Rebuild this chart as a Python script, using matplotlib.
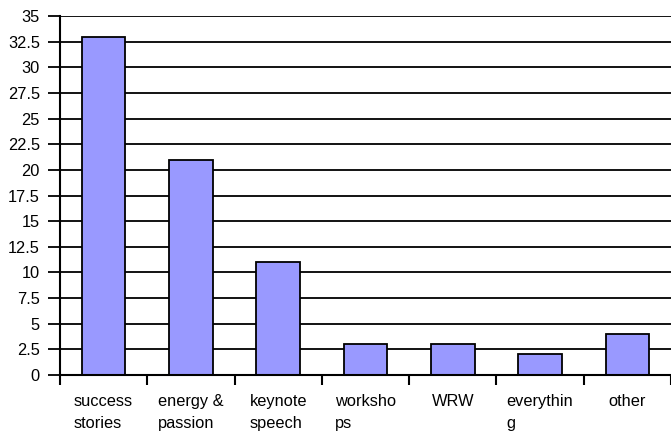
import matplotlib
matplotlib.use("Agg")
import matplotlib.pyplot as plt
from matplotlib.ticker import MultipleLocator, FixedLocator, NullFormatter

categories = ["success\nstories", "energy &\npassion", "keynote\nspeech",
              "worksho\nps", "WRW", "everythin\ng", "other"]
values = [33, 21, 11, 3, 3, 2, 4]

plt.rcParams["font.family"] = ["Liberation Sans", "DejaVu Sans"]

W, H = 671, 433
fig = plt.figure(figsize=(W / 100, H / 100), dpi=100)
ax = fig.add_axes([60 / W, (H - 375) / H, (W - 60) / W, (375 - 16) / H])

x = list(range(len(categories)))
ax.bar(x, values, width=0.5, color="#9999FF", edgecolor="black",
       linewidth=1.3, zorder=3)

ax.set_xlim(-0.5, len(categories) - 0.5)
ax.set_ylim(0, 35)
ax.yaxis.set_major_locator(MultipleLocator(2.5))
ax.set_yticklabels([f"{v:g}" for v in ax.get_yticks()])
ax.yaxis.grid(True, color="black", linewidth=1.3, zorder=0)
ax.set_axisbelow(True)

# category labels centered, separators as ticks between categories
ax.set_xticks(x)
ax.set_xticklabels(categories, multialignment="left", linespacing=1.55,
                   va="top")
ax.tick_params(axis="x", which="major", length=0, pad=14, labelsize=11.8)
ax.xaxis.set_minor_locator(FixedLocator([i - 0.5 for i in range(len(categories) + 1)]))
ax.xaxis.set_minor_formatter(NullFormatter())
ax.tick_params(axis="x", which="minor", length=7.5, width=1.5, color="black")
ax.tick_params(axis="y", length=8.5, width=1.3, labelsize=11.8, pad=6)

for side in ["top", "right"]:
    ax.spines[side].set_visible(False)
for side in ["left", "bottom"]:
    ax.spines[side].set_linewidth(1.5)
    ax.spines[side].set_zorder(4)

fig.savefig("out.png", dpi=100)
